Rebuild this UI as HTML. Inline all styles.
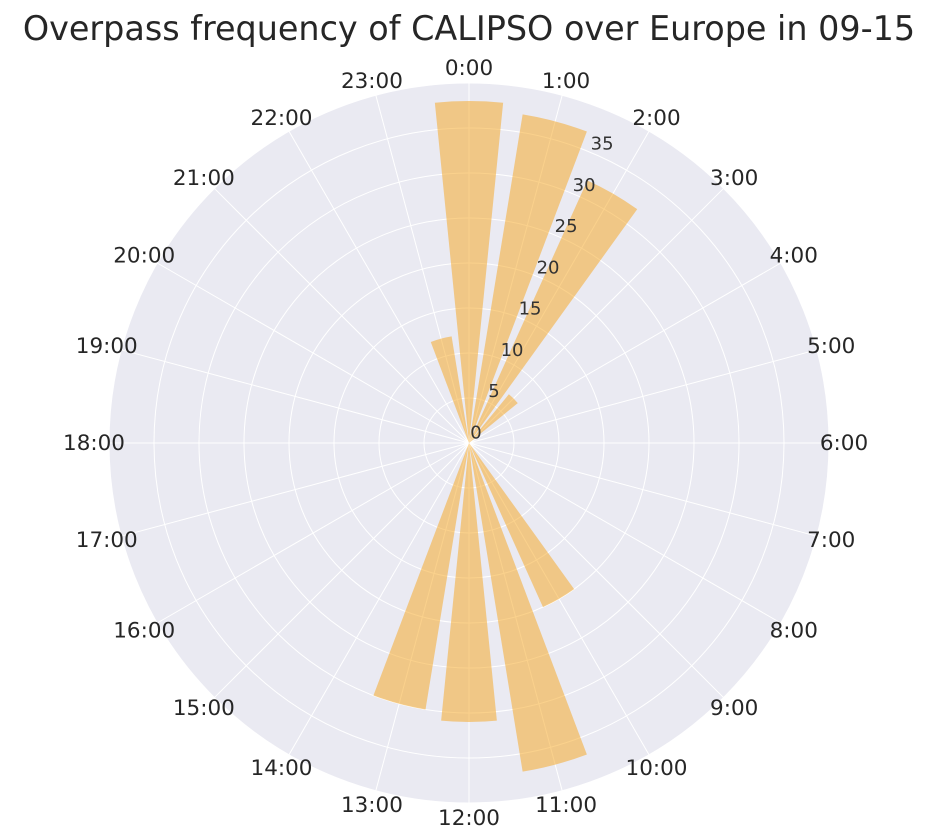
<!DOCTYPE html>
<html><head><meta charset="utf-8"><style>
html,body{margin:0;padding:0;background:#fff;}
svg{display:block;font-family:"DejaVu Sans","Liberation Sans",sans-serif;}
</style></head><body>
<svg id="chart" width="933" height="839" viewBox="0 0 933 839">
<text x="469" y="40" text-anchor="middle" font-size="33.4" fill="#262626">Overpass frequency of CALIPSO over Europe in 09-15</text>
<g id="plot"></g>
</svg>
<script>
const hours = ["0:00","1:00","2:00","3:00","4:00","5:00","6:00","7:00","8:00","9:00","10:00","11:00","12:00","13:00","14:00","15:00","16:00","17:00","18:00","19:00","20:00","21:00","22:00","23:00"];
const counts = [38,37,32,7,0,0,0,0,0,0,20,37,31,30,0,0,0,0,0,0,0,0,0,12];
const radialTicks = [0,5,10,15,20,25,30,35];
const rMax = 40;

const cx=469, cy=443, R=360;
const NS="http://www.w3.org/2000/svg";
const g=document.getElementById('plot');
function rs(v){return v/rMax*R;}
function ang(i){return i/hours.length*2*Math.PI;}
function pt(a,r){return [cx+r*Math.sin(a), cy-r*Math.cos(a)];}
function mk(t,attrs){const e=document.createElementNS(NS,t);for(const k in attrs)e.setAttribute(k,attrs[k]);g.appendChild(e);return e;}

const bg=mk('circle',{cx:cx,cy:cy,r:R,fill:'#EAEAF2'});


for(let v=5;v<=rMax;v+=5){
  const c=mk('circle',{cx:cx,cy:cy,r:rs(v),fill:'none',stroke:'#fff','stroke-width':1});
  
  
}
hours.forEach((h,i)=>{
  const a=ang(i);const p=pt(a,R);
  const l=mk('line',{x1:cx,y1:cy,x2:p[0],y2:p[1],stroke:'#fff','stroke-width':1});
  
  
});
const w=0.2;
counts.forEach((v,i)=>{
  if(v<=0)return;
  const a=ang(i), r=rs(v);
  const p1=pt(a-w/2,r), p2=pt(a+w/2,r);
  const d=`M${cx},${cy} L${p1[0]},${p1[1]} A${r},${r} 0 0 1 ${p2[0]},${p2[1]} Z`;
  const b=mk('path',{d:d,fill:'#F5A623','fill-opacity':0.52});
  
  
});
hours.forEach((h,i)=>{
  const p=pt(ang(i),R+15);
  const t=mk('text',{x:p[0],y:p[1]+7,'text-anchor':'middle','font-size':21.5,fill:'#262626'});
  t.textContent=h;
  
  
});
const ta=23.6*Math.PI/180;
radialTicks.forEach(v=>{
  const p=pt(ta,rs(v)+15);
  const t=mk('text',{x:p[0]+1,y:p[1]+9,'text-anchor':'middle','font-size':18,fill:'#333'});
  t.textContent=v;
  
  
});
</script>
</body></html>
